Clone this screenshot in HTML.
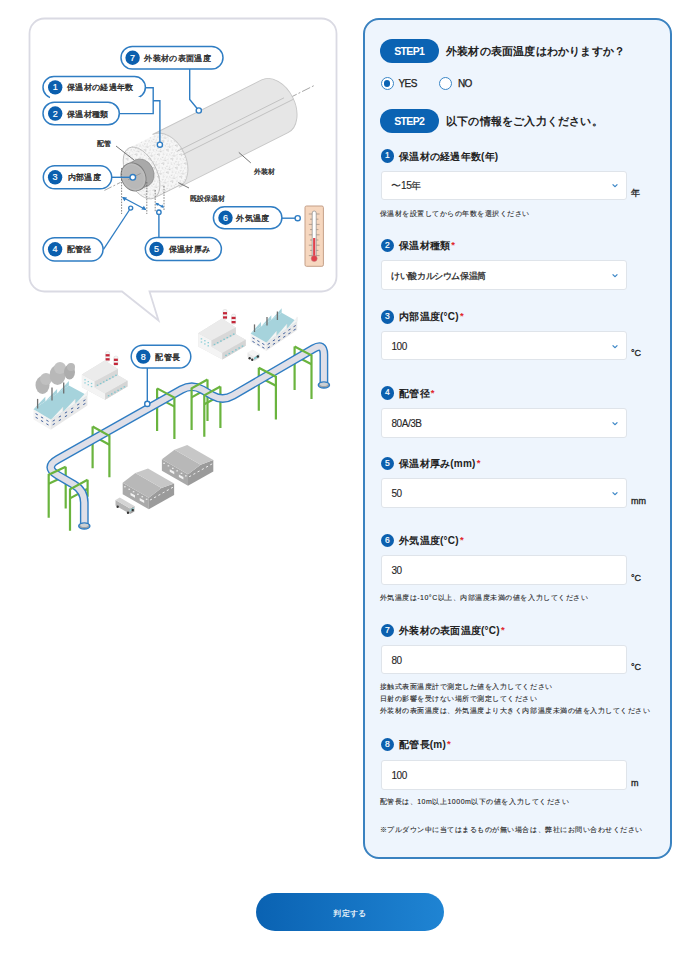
<!DOCTYPE html>
<html lang="ja"><head><meta charset="utf-8">
<style>
*{box-sizing:border-box;margin:0;padding:0}
html,body{width:695px;height:956px;overflow:hidden;background:#fff}
body{font-family:"Liberation Sans",sans-serif;color:#2b2b2b;position:relative}
.a{position:absolute;white-space:nowrap}
#panel{left:363px;top:17.5px;width:309px;height:841.5px;border:2px solid #3a82c0;border-radius:16px;background:#eef5fd}
.pill{background:#0b63b3;color:#fff;border-radius:12px;width:59px;height:24px;font-weight:bold;font-size:10.5px;letter-spacing:-0.65px;text-indent:-0.65px;line-height:24px;text-align:center;left:380px}
.ttl{left:446px;font-size:11px;letter-spacing:0.2px;font-weight:bold;line-height:16px;color:#222}
.radio{width:13px;height:13px;border:1.3px solid #3a86c6;border-radius:50%;background:#fff}
.radio.on::after{content:"";position:absolute;left:2.2px;top:2.2px;width:6.5px;height:6.5px;border-radius:50%;background:#0b63b3}
.rl{font-size:10px;letter-spacing:-0.6px;line-height:14px;color:#222;-webkit-text-stroke:0.25px #222}
.num{left:380.5px;width:13.5px;height:13.5px;border-radius:50%;background:#0b5fae;color:#fff;font-size:8.5px;line-height:13.5px;text-align:center;-webkit-text-stroke:0.2px #fff}
.lbl{left:399px;margin-top:0.5px;font-size:10px;letter-spacing:0.25px;font-weight:bold;line-height:14px;color:#222}
.req{color:#e0262b;font-size:9.5px;vertical-align:top;position:relative;top:-1px;margin-left:1px}
.fld{left:381px;width:245.5px;height:29.5px;background:#fff;border:1px solid #dfe4ea;border-radius:3px}
.ft{left:391.3px;font-size:9px;letter-spacing:-0.4px;line-height:12px;transform:translateY(1.2px);color:#222;-webkit-text-stroke:0.3px #333}
.ftn{font-size:10px;letter-spacing:-0.45px;margin-top:0.4px;margin-left:0.2px;-webkit-text-stroke:0.1px #333}
.chev{left:611.5px;width:6px;height:4px;transform:translateY(0.7px)}
.unit{left:631px;font-size:9px;line-height:12px;color:#222;-webkit-text-stroke:0.3px #222}
.help{left:379.6px;font-size:7px;letter-spacing:0.52px;line-height:12px;color:#111;-webkit-text-stroke:0.1px #444}
#btn{left:256px;top:893px;width:188px;height:38px;border-radius:19px;background:linear-gradient(90deg,#0a62b2,#1f84d3);color:#fff;font-size:8px;letter-spacing:0.4px;-webkit-text-stroke:0.15px #fff;line-height:38px;padding-top:1.5px;text-align:center}
</style></head><body>
<svg class="a" style="left:0;top:0" width="362" height="560" viewBox="0 0 362 560" font-family="Liberation Sans, sans-serif">
<defs><pattern id="dots" width="10" height="10" patternUnits="userSpaceOnUse"><rect width="10" height="10" fill="#f7f7f7"/><circle cx="2.38" cy="5.44" r="0.34" fill="#c4c4c4"/><circle cx="6.26" cy="0.66" r="0.25" fill="#c4c4c4"/><circle cx="2.59" cy="2.34" r="0.50" fill="#c4c4c4"/><circle cx="5.41" cy="5.50" r="0.35" fill="#aaaaaa"/><circle cx="2.32" cy="1.52" r="0.48" fill="#c4c4c4"/><circle cx="7.41" cy="6.71" r="0.27" fill="#999999"/><circle cx="3.01" cy="0.31" r="0.47" fill="#c4c4c4"/><circle cx="5.95" cy="9.20" r="0.35" fill="#c4c4c4"/><circle cx="3.95" cy="8.01" r="0.36" fill="#aaaaaa"/><circle cx="8.79" cy="0.97" r="0.28" fill="#aaaaaa"/><circle cx="2.58" cy="6.72" r="0.44" fill="#bbbbbb"/><circle cx="4.21" cy="8.33" r="0.39" fill="#c4c4c4"/><circle cx="5.84" cy="9.04" r="0.42" fill="#999999"/><circle cx="8.56" cy="9.91" r="0.42" fill="#aaaaaa"/><circle cx="6.99" cy="3.26" r="0.39" fill="#999999"/><circle cx="7.14" cy="2.11" r="0.46" fill="#bbbbbb"/><circle cx="2.85" cy="0.63" r="0.46" fill="#c4c4c4"/><circle cx="0.89" cy="8.01" r="0.35" fill="#aaaaaa"/><circle cx="0.20" cy="4.27" r="0.35" fill="#999999"/><circle cx="0.44" cy="6.15" r="0.26" fill="#bbbbbb"/><circle cx="5.51" cy="9.22" r="0.32" fill="#aaaaaa"/><circle cx="9.99" cy="3.10" r="0.27" fill="#999999"/><circle cx="9.49" cy="9.71" r="0.32" fill="#bbbbbb"/><circle cx="1.56" cy="0.42" r="0.47" fill="#bbbbbb"/><circle cx="3.60" cy="1.38" r="0.47" fill="#c4c4c4"/><circle cx="4.60" cy="5.20" r="0.41" fill="#999999"/><circle cx="6.20" cy="9.41" r="0.38" fill="#c4c4c4"/><circle cx="6.34" cy="7.16" r="0.48" fill="#c4c4c4"/><circle cx="9.78" cy="5.21" r="0.39" fill="#999999"/><circle cx="7.88" cy="9.87" r="0.33" fill="#c4c4c4"/></pattern></defs>
<path d="M44.5 18.5 H321.5 A15 15 0 0 1 336.5 33.5 V276.5 A15 15 0 0 1 321.5 291.5 H149.5 L158.5 320.5 L122 291.5 H44.5 A15 15 0 0 1 29.5 276.5 V33.5 A15 15 0 0 1 44.5 18.5 Z" fill="#fff" stroke="#dadae3" stroke-width="1.8"/>
<g transform="translate(133.5 177) rotate(-26.57)">
<line x1="174" y1="-1" x2="204" y2="-1" stroke="#9a9a9a" stroke-width="0.8" stroke-dasharray="9 2 2 2"/>
<path d="M9 -28 L58 -28 L58 28 L9 28 Z" fill="url(#dots)" stroke="none"/>
<line x1="9" y1="28" x2="58" y2="28" stroke="#b8b8b8" stroke-width="0.8"/>
<path d="M36 -29.5 L158 -29.5 A20 29.5 0 0 1 158 29.5 L36 29.5 A20 29.5 0 0 0 36 -29.5 Z" fill="#e6e6e6" stroke="#c6c6c6" stroke-width="0.9"/>
<line x1="50" y1="-3.5" x2="170" y2="-3.5" stroke="#bdbdbd" stroke-width="0.8"/>
<line x1="54" y1="2" x2="178" y2="2" stroke="#bdbdbd" stroke-width="0.8"/>
<ellipse cx="9" cy="0" rx="15" ry="28" fill="url(#dots)" stroke="#b8b8b8" stroke-width="0.8"/>
<path d="M0 -14.5 L9 -14.5 L9 14.5 L0 14.5 Z" fill="#a9a9a9"/>
<ellipse cx="9" cy="0" rx="12" ry="14.5" fill="#a9a9a9" stroke="#8f8f8f" stroke-width="0.7" clip-path="none"/>
<ellipse cx="0" cy="0" rx="12" ry="14.5" fill="#bdbdbd" stroke="#7c7c7c" stroke-width="0.9"/>
<ellipse cx="0" cy="0" rx="9.8" ry="12.3" fill="#b8b8b8" stroke="none"/>
<line x1="-32" y1="-1" x2="-14" y2="-1" stroke="#9a9a9a" stroke-width="0.8" stroke-dasharray="8 2 2 2"/>
<line x1="-6" y1="0" x2="8" y2="0" stroke="#8a8a8a" stroke-width="0.6"/>
</g>
<path d="M116 146 L134 160" stroke="#555" stroke-width="0.8"/>
<path d="M250.8 162.9 L238.8 152.4" stroke="#555" stroke-width="0.8"/>
<path d="M189 188 L178.3 182.6" stroke="#555" stroke-width="0.8"/>
<text x="97.2" y="145.8" font-size="7" fill="#2a2a2a" stroke="#2a2a2a" stroke-width="0.3">配管</text>
<text x="253.9" y="173.6" font-size="7" fill="#2a2a2a" stroke="#2a2a2a" stroke-width="0.3">外装材</text>
<text x="190.4" y="200.5" font-size="7" fill="#2a2a2a" stroke="#2a2a2a" stroke-width="0.3">既設保温材</text>
<line x1="121.6" y1="168" x2="121.6" y2="214" stroke="#555" stroke-width="0.7" stroke-dasharray="1.6 1.2"/>
<line x1="146.8" y1="182" x2="146.8" y2="214" stroke="#555" stroke-width="0.7" stroke-dasharray="1.6 1.2"/>
<line x1="155.2" y1="190" x2="155.2" y2="212" stroke="#555" stroke-width="0.7" stroke-dasharray="1.6 1.2"/>
<line x1="164" y1="186" x2="164" y2="210" stroke="#555" stroke-width="0.7" stroke-dasharray="1.6 1.2"/>
<path d="M123 197.5 L145.5 209.5" stroke="#2f7dc3" stroke-width="1.3"/>
<path d="M122 197 l5 0.6 l-2.6 3.6 Z M146.3 210 l-5 -0.6 l2.6 -3.6 Z" fill="#2f7dc3"/>
<path d="M156 203.3 L163.4 207.2" stroke="#2f7dc3" stroke-width="1.2"/>
<path d="M155.4 203 l3.6 0.3 l-1.8 2.6 Z M164 207.5 l-3.6 -0.3 l1.8 -2.6 Z" fill="#2f7dc3"/>
<path d="M189.7 69 V99.4 L198.8 110.5" fill="none" stroke="#2f7dc3" stroke-width="1.4"/>
<circle cx="198.8" cy="110.5" r="2.6" fill="#fff" stroke="#2f7dc3" stroke-width="1.4"/>
<path d="M145.4 87.7 H153.2 V113.6 H119.3 M153.2 100.7 H159.9 V144.7" fill="none" stroke="#2f7dc3" stroke-width="1.4"/>
<circle cx="159.9" cy="144.7" r="2.6" fill="#fff" stroke="#2f7dc3" stroke-width="1.4"/>
<path d="M111.7 177.3 H130" fill="none" stroke="#2f7dc3" stroke-width="1.4"/>
<circle cx="132.8" cy="177.3" r="2.8" fill="#fff" stroke="#2f7dc3" stroke-width="1.4"/>
<path d="M103.5 249.4 L129.4 210" fill="none" stroke="#2f7dc3" stroke-width="1.3"/>
<circle cx="130.7" cy="208.1" r="2.0" fill="#fff" stroke="#2f7dc3" stroke-width="1.4"/>
<path d="M158.9 237.7 V214.4" fill="none" stroke="#2f7dc3" stroke-width="1.4"/>
<circle cx="158.9" cy="212.2" r="2.2" fill="#fff" stroke="#2f7dc3" stroke-width="1.4"/>
<path d="M281.9 218.2 H295" fill="none" stroke="#2f7dc3" stroke-width="1.4"/>
<circle cx="297.7" cy="218.2" r="2.6" fill="#fff" stroke="#2f7dc3" stroke-width="1.4"/>
<rect x="121" y="46.5" width="102" height="22.5" rx="11.25" fill="#fff" stroke="#2f7dc3" stroke-width="1.5"/>
<circle cx="132.6" cy="57.75" r="7.2" fill="#0b5fae"/>
<text x="132.6" y="60.85" font-size="9" fill="#fff" stroke="#fff" stroke-width="0.2" text-anchor="middle">7</text>
<text x="144.2" y="60.85" font-size="8" letter-spacing="0.35" fill="#2a2a2a" stroke="#2a2a2a" stroke-width="0.35">外装材の表面温度</text>
<rect x="43" y="76.5" width="102.4" height="21.700000000000003" rx="10.850000000000001" fill="#fff" stroke="#2f7dc3" stroke-width="1.5"/>
<circle cx="55.2" cy="87.35" r="7.2" fill="#0b5fae"/>
<text x="55.2" y="90.44999999999999" font-size="9" fill="#fff" stroke="#fff" stroke-width="0.2" text-anchor="middle">1</text>
<text x="66.9" y="90.44999999999999" font-size="8" letter-spacing="0.35" fill="#2a2a2a" stroke="#2a2a2a" stroke-width="0.35">保温材の経過年数</text>
<rect x="50" y="97" width="90" height="2.6" fill="#fff"/>
<rect x="43" y="102.3" width="76.3" height="22.5" rx="11.25" fill="#fff" stroke="#2f7dc3" stroke-width="1.5"/>
<circle cx="55.2" cy="113.55" r="7.2" fill="#0b5fae"/>
<text x="55.2" y="116.64999999999999" font-size="9" fill="#fff" stroke="#fff" stroke-width="0.2" text-anchor="middle">2</text>
<text x="66.9" y="116.64999999999999" font-size="8" letter-spacing="0.35" fill="#2a2a2a" stroke="#2a2a2a" stroke-width="0.35">保温材種類</text>
<rect x="43.3" y="165.8" width="68.4" height="23.0" rx="11.5" fill="#fff" stroke="#2f7dc3" stroke-width="1.5"/>
<circle cx="55.1" cy="177.3" r="7.2" fill="#0b5fae"/>
<text x="55.1" y="180.4" font-size="9" fill="#fff" stroke="#fff" stroke-width="0.2" text-anchor="middle">3</text>
<text x="67.8" y="180.4" font-size="8" letter-spacing="0.35" fill="#2a2a2a" stroke="#2a2a2a" stroke-width="0.35">内部温度</text>
<rect x="43.1" y="237.7" width="59.99999999999999" height="23.19999999999999" rx="11.599999999999994" fill="#fff" stroke="#2f7dc3" stroke-width="1.5"/>
<circle cx="55.1" cy="249.29999999999998" r="7.2" fill="#0b5fae"/>
<text x="55.1" y="252.39999999999998" font-size="9" fill="#fff" stroke="#fff" stroke-width="0.2" text-anchor="middle">4</text>
<text x="66.8" y="252.39999999999998" font-size="8" letter-spacing="0.35" fill="#2a2a2a" stroke="#2a2a2a" stroke-width="0.35">配管径</text>
<rect x="145.3" y="237.6" width="76.1" height="22.900000000000006" rx="11.450000000000003" fill="#fff" stroke="#2f7dc3" stroke-width="1.5"/>
<circle cx="156.5" cy="249.05" r="7.2" fill="#0b5fae"/>
<text x="156.5" y="252.15" font-size="9" fill="#fff" stroke="#fff" stroke-width="0.2" text-anchor="middle">5</text>
<text x="168.8" y="252.15" font-size="8" letter-spacing="0.35" fill="#2a2a2a" stroke="#2a2a2a" stroke-width="0.35">保温材厚み</text>
<rect x="213.4" y="206.7" width="68.49999999999997" height="22.100000000000023" rx="11.050000000000011" fill="#fff" stroke="#2f7dc3" stroke-width="1.5"/>
<circle cx="225.5" cy="217.75" r="7.2" fill="#0b5fae"/>
<text x="225.5" y="220.85" font-size="9" fill="#fff" stroke="#fff" stroke-width="0.2" text-anchor="middle">6</text>
<text x="236.4" y="220.85" font-size="8" letter-spacing="0.35" fill="#2a2a2a" stroke="#2a2a2a" stroke-width="0.35">外気温度</text>
<rect x="305" y="206" width="18.4" height="60.3" rx="1.5" fill="#f6d7bf" stroke="#c49f88" stroke-width="1"/>
<line x1="308.8" y1="214.0" x2="319.59999999999997" y2="214.0" stroke="#8a7a70" stroke-width="0.6"/>
<line x1="310.0" y1="219.2" x2="318.4" y2="219.2" stroke="#8a7a70" stroke-width="0.6"/>
<line x1="308.8" y1="224.4" x2="319.59999999999997" y2="224.4" stroke="#8a7a70" stroke-width="0.6"/>
<line x1="310.0" y1="229.6" x2="318.4" y2="229.6" stroke="#8a7a70" stroke-width="0.6"/>
<line x1="308.8" y1="234.8" x2="319.59999999999997" y2="234.8" stroke="#8a7a70" stroke-width="0.6"/>
<line x1="310.0" y1="240.0" x2="318.4" y2="240.0" stroke="#8a7a70" stroke-width="0.6"/>
<line x1="308.8" y1="245.2" x2="319.59999999999997" y2="245.2" stroke="#8a7a70" stroke-width="0.6"/>
<line x1="310.0" y1="250.4" x2="318.4" y2="250.4" stroke="#8a7a70" stroke-width="0.6"/>
<line x1="308.8" y1="255.6" x2="319.59999999999997" y2="255.6" stroke="#8a7a70" stroke-width="0.6"/>
<rect x="312.2" y="211" width="4" height="46" rx="2" fill="#fff" stroke="#8a8a8a" stroke-width="0.7"/>
<rect x="313.1" y="238" width="2.2" height="20" fill="#e0414b"/>
<circle cx="314.2" cy="258.5" r="3" fill="#e0414b" stroke="#b88" stroke-width="0.5"/>
<polygon points="33.50,409.20 50.70,419.60 50.70,429.80 33.50,419.40" fill="#f3f3f3" />
<polygon points="50.70,419.60 87.40,395.40 87.40,405.60 50.70,429.80" fill="#e8e8e8" />
<polygon points="33.50,409.20 68.90,385.50 87.40,395.40 50.70,419.60" fill="#a6d3dc" />
<polygon points="33.50,409.20 45.30,396.80 45.30,401.30" fill="#a6d3dc" />
<polygon points="45.30,401.30 57.10,388.90 57.10,393.40" fill="#a6d3dc" />
<polygon points="57.10,393.40 68.90,381.00 68.90,385.50" fill="#a6d3dc" />
<polygon points="51.92,418.79 62.93,407.03 62.93,411.53" fill="#f4f4f4" />
<line x1="62.93" y1="407.03" x2="62.93" y2="411.53" stroke="#dcdcdc" stroke-width="0.5"/>
<polygon points="64.16,410.73 75.17,398.97 75.17,403.47" fill="#f4f4f4" />
<line x1="75.17" y1="398.97" x2="75.17" y2="403.47" stroke="#dcdcdc" stroke-width="0.5"/>
<polygon points="76.39,402.66 87.40,390.90 87.40,395.40" fill="#f4f4f4" />
<line x1="87.40" y1="390.90" x2="87.40" y2="395.40" stroke="#dcdcdc" stroke-width="0.5"/>
<path d="M35.59 413.62 l2.2 1.25" stroke="#41609c" stroke-width="1"/>
<path d="M40.96 416.88 l2.2 1.25" stroke="#41609c" stroke-width="1"/>
<path d="M46.34 420.12 l2.2 1.25" stroke="#41609c" stroke-width="1"/>
<path d="M52.66 421.18 l2.2 -1.25" stroke="#41609c" stroke-width="1"/>
<path d="M58.77 417.15 l2.2 -1.25" stroke="#41609c" stroke-width="1"/>
<path d="M64.89 413.12 l2.2 -1.25" stroke="#41609c" stroke-width="1"/>
<path d="M71.01 409.08 l2.2 -1.25" stroke="#41609c" stroke-width="1"/>
<path d="M77.13 405.05 l2.2 -1.25" stroke="#41609c" stroke-width="1"/>
<path d="M83.24 401.02 l2.2 -1.25" stroke="#41609c" stroke-width="1"/>
<path d="M35.59 417.23 l2.2 1.25" stroke="#41609c" stroke-width="1"/>
<path d="M40.96 420.48 l2.2 1.25" stroke="#41609c" stroke-width="1"/>
<path d="M46.34 423.73 l2.2 1.25" stroke="#41609c" stroke-width="1"/>
<path d="M52.66 424.78 l2.2 -1.25" stroke="#41609c" stroke-width="1"/>
<path d="M58.77 420.75 l2.2 -1.25" stroke="#41609c" stroke-width="1"/>
<path d="M64.89 416.72 l2.2 -1.25" stroke="#41609c" stroke-width="1"/>
<path d="M71.01 412.68 l2.2 -1.25" stroke="#41609c" stroke-width="1"/>
<path d="M77.13 408.65 l2.2 -1.25" stroke="#41609c" stroke-width="1"/>
<path d="M83.24 404.62 l2.2 -1.25" stroke="#41609c" stroke-width="1"/>
<line x1="37.6" y1="398.9" x2="37.6" y2="408.5" stroke="#6e6e6e" stroke-width="1.3"/>
<line x1="52" y1="387.6" x2="52" y2="400.5" stroke="#6e6e6e" stroke-width="1.3"/>
<line x1="63.7" y1="382.5" x2="63.7" y2="393.5" stroke="#6e6e6e" stroke-width="1.3"/>
<ellipse cx="42.5" cy="385" rx="7" ry="9" fill="#b5b5b5"/>
<ellipse cx="46" cy="379" rx="6" ry="6" fill="#c0c0c0"/>
<ellipse cx="57.5" cy="375" rx="8" ry="10" fill="#b8b8b8"/>
<ellipse cx="60" cy="368" rx="6" ry="6" fill="#c3c3c3"/>
<ellipse cx="69.5" cy="372" rx="5.5" ry="7.5" fill="#adadad"/>
<ellipse cx="71" cy="367" rx="4" ry="4" fill="#b9b9b9"/>
<polygon points="81.90,374.40 104.75,360.38 118.00,369.02 118.00,375.36 127.50,380.74 127.50,386.50 105.13,399.74 81.90,387.26" fill="#dedede" />
<polygon points="81.90,374.40 94.76,381.50 94.76,387.46 105.13,393.41 105.13,399.74 81.90,387.26" fill="#f4f4f4" />
<polygon points="81.90,374.40 104.75,360.38 118.00,369.02 94.76,381.50" fill="#ebebeb" />
<polygon points="94.76,381.50 118.00,369.02 118.00,375.36 94.76,387.46" fill="#d8d8d8" />
<polygon points="94.76,387.46 118.00,375.36 127.50,380.74 105.13,393.41" fill="#e9e9e9" />
<polygon points="105.13,393.41 127.50,380.74 127.50,386.50 105.13,399.74" fill="#d5d5d5" />
<rect x="96.78" y="384.58" width="1.54" height="1.34" fill="#7fc6cf"/>
<rect x="99.85" y="382.92" width="1.54" height="1.34" fill="#7fc6cf"/>
<rect x="102.92" y="381.27" width="1.54" height="1.34" fill="#7fc6cf"/>
<rect x="106.00" y="379.62" width="1.54" height="1.34" fill="#7fc6cf"/>
<rect x="109.07" y="377.97" width="1.54" height="1.34" fill="#7fc6cf"/>
<rect x="112.14" y="376.32" width="1.54" height="1.34" fill="#7fc6cf"/>
<rect x="115.21" y="374.67" width="1.54" height="1.34" fill="#7fc6cf"/>
<rect x="107.82" y="395.04" width="1.54" height="1.34" fill="#7fc6cf"/>
<rect x="110.99" y="393.26" width="1.54" height="1.34" fill="#7fc6cf"/>
<rect x="114.16" y="391.49" width="1.54" height="1.34" fill="#7fc6cf"/>
<rect x="117.32" y="389.71" width="1.54" height="1.34" fill="#7fc6cf"/>
<rect x="120.49" y="387.94" width="1.54" height="1.34" fill="#7fc6cf"/>
<rect x="123.66" y="386.16" width="1.54" height="1.34" fill="#7fc6cf"/>
<rect x="84.30" y="379.20" width="1.44" height="1.25" fill="#8fd0d8"/>
<rect x="84.30" y="382.27" width="1.44" height="1.25" fill="#8fd0d8"/>
<rect x="87.56" y="381.02" width="1.44" height="1.25" fill="#8fd0d8"/>
<rect x="87.56" y="384.10" width="1.44" height="1.25" fill="#8fd0d8"/>
<rect x="90.83" y="382.85" width="1.44" height="1.25" fill="#8fd0d8"/>
<rect x="90.83" y="385.92" width="1.44" height="1.25" fill="#8fd0d8"/>
<rect x="105.63" y="351.65" width="4" height="9.50" rx="1.5" fill="#f6f6f6" stroke="#d0d0d0" stroke-width="0.5"/>
<rect x="105.63" y="354.14" width="4" height="2.3" fill="#c4283a"/>
<rect x="105.63" y="358.18" width="4" height="2.3" fill="#c4283a"/>
<rect x="113.88" y="356.16" width="4" height="9.60" rx="1.5" fill="#f6f6f6" stroke="#d0d0d0" stroke-width="0.5"/>
<rect x="113.88" y="358.66" width="4" height="2.3" fill="#c4283a"/>
<rect x="113.88" y="362.69" width="4" height="2.3" fill="#c4283a"/>
<polygon points="198.20,333.20 222.00,318.60 235.80,327.60 235.80,334.20 245.70,339.80 245.70,345.80 222.40,359.60 198.20,346.60" fill="#dedede" />
<polygon points="198.20,333.20 211.60,340.60 211.60,346.80 222.40,353.00 222.40,359.60 198.20,346.60" fill="#f4f4f4" />
<polygon points="198.20,333.20 222.00,318.60 235.80,327.60 211.60,340.60" fill="#ebebeb" />
<polygon points="211.60,340.60 235.80,327.60 235.80,334.20 211.60,346.80" fill="#d8d8d8" />
<polygon points="211.60,346.80 235.80,334.20 245.70,339.80 222.40,353.00" fill="#e9e9e9" />
<polygon points="222.40,353.00 245.70,339.80 245.70,345.80 222.40,359.60" fill="#d5d5d5" />
<rect x="213.70" y="343.80" width="1.60" height="1.40" fill="#7fc6cf"/>
<rect x="216.90" y="342.08" width="1.60" height="1.40" fill="#7fc6cf"/>
<rect x="220.10" y="340.36" width="1.60" height="1.40" fill="#7fc6cf"/>
<rect x="223.30" y="338.64" width="1.60" height="1.40" fill="#7fc6cf"/>
<rect x="226.50" y="336.92" width="1.60" height="1.40" fill="#7fc6cf"/>
<rect x="229.70" y="335.20" width="1.60" height="1.40" fill="#7fc6cf"/>
<rect x="232.90" y="333.48" width="1.60" height="1.40" fill="#7fc6cf"/>
<rect x="225.20" y="354.70" width="1.60" height="1.40" fill="#7fc6cf"/>
<rect x="228.50" y="352.85" width="1.60" height="1.40" fill="#7fc6cf"/>
<rect x="231.80" y="351.00" width="1.60" height="1.40" fill="#7fc6cf"/>
<rect x="235.10" y="349.15" width="1.60" height="1.40" fill="#7fc6cf"/>
<rect x="238.40" y="347.30" width="1.60" height="1.40" fill="#7fc6cf"/>
<rect x="241.70" y="345.45" width="1.60" height="1.40" fill="#7fc6cf"/>
<rect x="200.70" y="338.20" width="1.50" height="1.30" fill="#8fd0d8"/>
<rect x="200.70" y="341.40" width="1.50" height="1.30" fill="#8fd0d8"/>
<rect x="204.10" y="340.10" width="1.50" height="1.30" fill="#8fd0d8"/>
<rect x="204.10" y="343.30" width="1.50" height="1.30" fill="#8fd0d8"/>
<rect x="207.50" y="342.00" width="1.50" height="1.30" fill="#8fd0d8"/>
<rect x="207.50" y="345.20" width="1.50" height="1.30" fill="#8fd0d8"/>
<rect x="223.00" y="309.50" width="4" height="9.90" rx="1.5" fill="#f6f6f6" stroke="#d0d0d0" stroke-width="0.5"/>
<rect x="223.00" y="312.10" width="4" height="2.3" fill="#c4283a"/>
<rect x="223.00" y="316.30" width="4" height="2.3" fill="#c4283a"/>
<rect x="231.60" y="314.20" width="4" height="10.00" rx="1.5" fill="#f6f6f6" stroke="#d0d0d0" stroke-width="0.5"/>
<rect x="231.60" y="316.80" width="4" height="2.3" fill="#c4283a"/>
<rect x="231.60" y="321.00" width="4" height="2.3" fill="#c4283a"/>
<polygon points="250.60,333.50 266.20,342.60 266.20,351.10 250.60,342.00" fill="#f3f3f3" />
<polygon points="266.20,342.60 297.20,321.40 297.20,329.90 266.20,351.10" fill="#e8e8e8" />
<polygon points="250.60,333.50 281.70,312.80 297.20,321.40 266.20,342.60" fill="#a6d3dc" />
<polygon points="250.60,333.50 260.97,322.10 260.97,326.60" fill="#a6d3dc" />
<polygon points="260.97,326.60 271.33,315.20 271.33,319.70" fill="#a6d3dc" />
<polygon points="271.33,319.70 281.70,308.30 281.70,312.80" fill="#a6d3dc" />
<polygon points="267.23,341.89 276.53,331.03 276.53,335.53" fill="#f4f4f4" />
<line x1="276.53" y1="331.03" x2="276.53" y2="335.53" stroke="#dcdcdc" stroke-width="0.5"/>
<polygon points="277.57,334.83 286.87,323.97 286.87,328.47" fill="#f4f4f4" />
<line x1="286.87" y1="323.97" x2="286.87" y2="328.47" stroke="#dcdcdc" stroke-width="0.5"/>
<polygon points="287.90,327.76 297.20,316.90 297.20,321.40" fill="#f4f4f4" />
<line x1="297.20" y1="316.90" x2="297.20" y2="321.40" stroke="#dcdcdc" stroke-width="0.5"/>
<path d="M252.44 337.72 l2.2 1.25" stroke="#41609c" stroke-width="1"/>
<path d="M257.31 340.57 l2.2 1.25" stroke="#41609c" stroke-width="1"/>
<path d="M262.19 343.41 l2.2 1.25" stroke="#41609c" stroke-width="1"/>
<path d="M267.68 344.43 l2.2 -1.25" stroke="#41609c" stroke-width="1"/>
<path d="M272.85 340.90 l2.2 -1.25" stroke="#41609c" stroke-width="1"/>
<path d="M278.02 337.37 l2.2 -1.25" stroke="#41609c" stroke-width="1"/>
<path d="M283.18 333.83 l2.2 -1.25" stroke="#41609c" stroke-width="1"/>
<path d="M288.35 330.30 l2.2 -1.25" stroke="#41609c" stroke-width="1"/>
<path d="M293.52 326.77 l2.2 -1.25" stroke="#41609c" stroke-width="1"/>
<path d="M252.44 341.32 l2.2 1.25" stroke="#41609c" stroke-width="1"/>
<path d="M257.31 344.17 l2.2 1.25" stroke="#41609c" stroke-width="1"/>
<path d="M262.19 347.01 l2.2 1.25" stroke="#41609c" stroke-width="1"/>
<path d="M267.68 348.03 l2.2 -1.25" stroke="#41609c" stroke-width="1"/>
<path d="M272.85 344.50 l2.2 -1.25" stroke="#41609c" stroke-width="1"/>
<path d="M278.02 340.97 l2.2 -1.25" stroke="#41609c" stroke-width="1"/>
<path d="M283.18 337.43 l2.2 -1.25" stroke="#41609c" stroke-width="1"/>
<path d="M288.35 333.90 l2.2 -1.25" stroke="#41609c" stroke-width="1"/>
<path d="M293.52 330.37 l2.2 -1.25" stroke="#41609c" stroke-width="1"/>
<line x1="254.5" y1="324.4" x2="254.5" y2="332" stroke="#6e6e6e" stroke-width="1.3"/>
<line x1="267" y1="317.1" x2="267" y2="325.5" stroke="#6e6e6e" stroke-width="1.3"/>
<line x1="277.4" y1="311.5" x2="277.4" y2="320" stroke="#6e6e6e" stroke-width="1.3"/>
<polygon points="247.50,352.50 254.38,356.50 254.38,361.00 247.50,357.00" fill="#e9e9e9" />
<polygon points="254.38,356.50 259.54,353.50 259.54,358.00 254.38,361.00" fill="#dcdcdc" />
<polygon points="247.50,352.50 254.38,356.50 259.54,353.50 252.66,349.50" fill="#f4f4f4" />
<polygon points="253.95,357.75 259.11,354.75 259.11,356.75 253.95,359.75" fill="#7fc6cf" />
<ellipse cx="249.65" cy="358.25" rx="1.2" ry="1.3" fill="#333"/>
<ellipse cx="252.23" cy="359.75" rx="1.2" ry="1.3" fill="#333"/>
<ellipse cx="257.82" cy="356.50" rx="1.2" ry="1.3" fill="#333"/>
<polygon points="122.70,482.70 148.80,497.70 148.80,509.20 122.70,494.20" fill="#a9a9a9" />
<polygon points="148.80,497.70 161.45,488.10 174.10,483.50 174.10,495.00 148.80,509.20" fill="#9b9b9b" />
<polygon points="122.70,482.70 135.35,473.10 161.45,488.10 148.80,497.70" fill="#b8b8b8" />
<polygon points="135.35,473.10 148.00,468.50 174.10,483.50 161.45,488.10" fill="#c7c7c7" />
<rect x="124.08" y="486.15" width="1.6" height="1.2" fill="#eee"/>
<rect x="128.42" y="488.65" width="1.6" height="1.2" fill="#eee"/>
<rect x="132.78" y="491.15" width="1.6" height="1.2" fill="#eee"/>
<rect x="137.12" y="493.65" width="1.6" height="1.2" fill="#eee"/>
<rect x="141.47" y="496.15" width="1.6" height="1.2" fill="#eee"/>
<rect x="145.82" y="498.65" width="1.6" height="1.2" fill="#eee"/>
<path d="M149.91 500.12 l2 -1" stroke="#eee" stroke-width="1"/>
<path d="M154.12 497.75 l2 -1" stroke="#eee" stroke-width="1"/>
<path d="M158.34 495.38 l2 -1" stroke="#eee" stroke-width="1"/>
<path d="M162.56 493.02 l2 -1" stroke="#eee" stroke-width="1"/>
<path d="M166.78 490.65 l2 -1" stroke="#eee" stroke-width="1"/>
<path d="M170.99 488.28 l2 -1" stroke="#eee" stroke-width="1"/>
<polygon points="130.53,492.70 135.03,495.20 135.03,497.70 130.53,495.20" fill="#f1f1f1" />
<polygon points="139.67,497.95 144.17,500.45 144.17,502.95 139.67,500.45" fill="#f1f1f1" />
<polygon points="161.90,459.30 188.00,474.30 188.00,485.80 161.90,470.80" fill="#a9a9a9" />
<polygon points="188.00,474.30 200.65,464.70 213.30,460.10 213.30,471.60 188.00,485.80" fill="#9b9b9b" />
<polygon points="161.90,459.30 174.55,449.70 200.65,464.70 188.00,474.30" fill="#b8b8b8" />
<polygon points="174.55,449.70 187.20,445.10 213.30,460.10 200.65,464.70" fill="#c7c7c7" />
<rect x="163.28" y="462.75" width="1.6" height="1.2" fill="#eee"/>
<rect x="167.62" y="465.25" width="1.6" height="1.2" fill="#eee"/>
<rect x="171.98" y="467.75" width="1.6" height="1.2" fill="#eee"/>
<rect x="176.33" y="470.25" width="1.6" height="1.2" fill="#eee"/>
<rect x="180.68" y="472.75" width="1.6" height="1.2" fill="#eee"/>
<rect x="185.03" y="475.25" width="1.6" height="1.2" fill="#eee"/>
<path d="M189.11 476.72 l2 -1" stroke="#eee" stroke-width="1"/>
<path d="M193.33 474.35 l2 -1" stroke="#eee" stroke-width="1"/>
<path d="M197.54 471.98 l2 -1" stroke="#eee" stroke-width="1"/>
<path d="M201.76 469.62 l2 -1" stroke="#eee" stroke-width="1"/>
<path d="M205.98 467.25 l2 -1" stroke="#eee" stroke-width="1"/>
<path d="M210.19 464.88 l2 -1" stroke="#eee" stroke-width="1"/>
<polygon points="169.73,469.30 174.23,471.80 174.23,474.30 169.73,471.80" fill="#f1f1f1" />
<polygon points="178.87,474.55 183.37,477.05 183.37,479.55 178.87,477.05" fill="#f1f1f1" />
<polygon points="115.50,500.00 130.12,508.50 130.12,514.00 115.50,505.50" fill="#b5b5b5" />
<polygon points="130.12,508.50 134.42,506.00 134.42,511.50 130.12,514.00" fill="#a0a0a0" />
<polygon points="115.50,500.00 130.12,508.50 134.42,506.00 119.80,497.50" fill="#d4d4d4" />
<polygon points="129.69,509.75 133.99,507.25 133.99,509.25 129.69,511.75" fill="#9fd4d8" />
<ellipse cx="117.65" cy="506.75" rx="1.2" ry="1.3" fill="#333"/>
<ellipse cx="127.97" cy="512.75" rx="1.2" ry="1.3" fill="#333"/>
<ellipse cx="132.70" cy="510.00" rx="1.2" ry="1.3" fill="#333"/>
<path d="M92.6 426.5 V468.2 M92.6 435.5 L109.4 444.8" stroke="#6ab43e" stroke-width="2.2" fill="none"/>
<path d="M157.1 388.4 V431.0 M157.1 397.4 L174.4 406.6" stroke="#6ab43e" stroke-width="2.2" fill="none"/>
<path d="M207.5 379.5 V421.0 M191.6 397.4 L207.5 388.5" stroke="#6ab43e" stroke-width="2.2" fill="none"/>
<path d="M220.4 386.5 V428.0 M204.3 404.3 L220.4 395.5" stroke="#6ab43e" stroke-width="2.2" fill="none"/>
<path d="M258.8 367.7 V410.7 M258.8 376.7 L275.9 385.7" stroke="#6ab43e" stroke-width="2.2" fill="none"/>
<path d="M294.6 346.6 V390.1 M294.6 355.6 L311.5 364.3" stroke="#6ab43e" stroke-width="2.2" fill="none"/>
<path d="M65.7 466.8 V508.5 M48.7 483.7 L65.7 475.8" stroke="#6ab43e" stroke-width="2.2" fill="none"/>
<path d="M87.6 479.7 V496.7 M70 498.4 L87.6 488.7" stroke="#6ab43e" stroke-width="2.2" fill="none"/>
<path d="M84.30 526.00 L84.30 502.60 Q84.30 490.60 73.91 484.60 L57.65 475.20 Q43.80 467.20 57.74 459.34 L181.45 389.59 Q191.90 383.70 202.29 389.70 L212.31 395.50 Q222.70 401.50 233.07 395.46 L313.53 348.64 Q323.90 342.60 323.90 354.60 L323.90 385.00" fill="none" stroke="#2f7dc3" stroke-width="8.8"/>
<path d="M84.30 526.00 L84.30 502.60 Q84.30 490.60 73.91 484.60 L57.65 475.20 Q43.80 467.20 57.74 459.34 L181.45 389.59 Q191.90 383.70 202.29 389.70 L212.31 395.50 Q222.70 401.50 233.07 395.46 L313.53 348.64 Q323.90 342.60 323.90 354.60 L323.90 385.00" fill="none" stroke="#dfdfe8" stroke-width="6"/>
<ellipse cx="84.3" cy="526" rx="5.6" ry="3" fill="#9aa0a6" stroke="#2f7dc3" stroke-width="1.4"/>
<ellipse cx="84.3" cy="525.2" rx="4" ry="1.8" fill="#ccd0d4"/>
<ellipse cx="323.9" cy="385" rx="5.6" ry="3" fill="#9aa0a6" stroke="#2f7dc3" stroke-width="1.4"/>
<ellipse cx="323.9" cy="384.2" rx="4" ry="1.8" fill="#ccd0d4"/>
<path d="M92.6 426.5 L109.4 435.8 V477.3" stroke="#6ab43e" stroke-width="2.2" fill="none"/>
<path d="M157.1 388.4 L174.4 397.6 V439.0" stroke="#6ab43e" stroke-width="2.2" fill="none"/>
<path d="M207.5 379.5 L191.6 388.4 V429.9" stroke="#6ab43e" stroke-width="2.2" fill="none"/>
<path d="M220.4 386.5 L204.3 395.3 V436.8" stroke="#6ab43e" stroke-width="2.2" fill="none"/>
<path d="M258.8 367.7 L275.9 376.7 V419.4" stroke="#6ab43e" stroke-width="2.2" fill="none"/>
<path d="M294.6 346.6 L311.5 355.3 V398.90000000000003" stroke="#6ab43e" stroke-width="2.2" fill="none"/>
<path d="M65.7 466.8 L48.7 474.7 V517.8" stroke="#6ab43e" stroke-width="2.2" fill="none"/>
<path d="M87.6 479.7 L70 489.4 V530.8" stroke="#6ab43e" stroke-width="2.2" fill="none"/>
<path d="M147.3 368 V401.5" fill="none" stroke="#2f7dc3" stroke-width="1.4"/>
<circle cx="147.3" cy="403.9" r="2.6" fill="#fff" stroke="#2f7dc3" stroke-width="1.4"/>
<rect x="131.2" y="345.2" width="59.60000000000002" height="22.80000000000001" rx="11.400000000000006" fill="#fff" stroke="#2f7dc3" stroke-width="1.5"/>
<circle cx="143.3" cy="356.6" r="7.2" fill="#0b5fae"/>
<text x="143.3" y="359.70000000000005" font-size="9" fill="#fff" stroke="#fff" stroke-width="0.2" text-anchor="middle">8</text>
<text x="155.4" y="359.70000000000005" font-size="8" letter-spacing="0.35" fill="#2a2a2a" stroke="#2a2a2a" stroke-width="0.35">配管長</text>
</svg>
<!-- right panel -->
<div id="panel" class="a"></div>
<div class="a pill" style="top:38.5px">STEP1</div>
<div class="a ttl" style="top:43px">外装材の表面温度はわかりますか？</div>
<div class="a radio on" style="left:380.5px;top:77px"></div>
<div class="a rl" style="left:398.5px;top:76.5px">YES</div>
<div class="a radio" style="left:439px;top:77px"></div>
<div class="a rl" style="left:458px;top:76.5px">NO</div>
<div class="a pill" style="top:108.5px">STEP2</div>
<div class="a ttl" style="top:113px">以下の情報をご入力ください。</div>

<div class="a num" style="top:149.2px">1</div>
<div class="a lbl" style="top:149px">保温材の経過年数(年)</div>
<div class="a fld" style="top:170.5px"></div>
<div class="a ft ftn" style="top:179px">〜15年</div>
<svg class="a chev" style="top:183px" viewBox="0 0 6 4"><path d="M0.6 0.6 L3 3 L5.4 0.6" fill="none" stroke="#3a86c6" stroke-width="1.2"/></svg>
<div class="a unit" style="top:187px">年</div>
<div class="a help" style="top:207.5px">保温材を設置してからの年数を選択ください</div>

<div class="a num" style="top:238.8px">2</div>
<div class="a lbl" style="top:238.5px">保温材種類<span class="req">*</span></div>
<div class="a fld" style="top:260.3px"></div>
<div class="a ft" style="top:269px">けい酸カルシウム保温筒</div>
<svg class="a chev" style="top:273px" viewBox="0 0 6 4"><path d="M0.6 0.6 L3 3 L5.4 0.6" fill="none" stroke="#3a86c6" stroke-width="1.2"/></svg>

<div class="a num" style="top:310px">3</div>
<div class="a lbl" style="top:309.5px">内部温度(°C)<span class="req">*</span></div>
<div class="a fld" style="top:330.8px"></div>
<div class="a ft ftn" style="top:339.5px">100</div>
<svg class="a chev" style="top:343.5px" viewBox="0 0 6 4"><path d="M0.6 0.6 L3 3 L5.4 0.6" fill="none" stroke="#3a86c6" stroke-width="1.2"/></svg>
<div class="a unit" style="top:347px">°C</div>

<div class="a num" style="top:386.3px">4</div>
<div class="a lbl" style="top:386px">配管径<span class="req">*</span></div>
<div class="a fld" style="top:408.3px"></div>
<div class="a ft ftn" style="top:417px">80A/3B</div>
<svg class="a chev" style="top:421px" viewBox="0 0 6 4"><path d="M0.6 0.6 L3 3 L5.4 0.6" fill="none" stroke="#3a86c6" stroke-width="1.2"/></svg>

<div class="a num" style="top:456.6px">5</div>
<div class="a lbl" style="top:456.3px">保温材厚み(mm)<span class="req">*</span></div>
<div class="a fld" style="top:478px"></div>
<div class="a ft ftn" style="top:486.5px">50</div>
<svg class="a chev" style="top:490.5px" viewBox="0 0 6 4"><path d="M0.6 0.6 L3 3 L5.4 0.6" fill="none" stroke="#3a86c6" stroke-width="1.2"/></svg>
<div class="a unit" style="top:494.5px">mm</div>

<div class="a num" style="top:533.8px">6</div>
<div class="a lbl" style="top:533.5px">外気温度(°C)<span class="req">*</span></div>
<div class="a fld" style="top:555px"></div>
<div class="a ft ftn" style="top:563.5px">30</div>
<div class="a unit" style="top:571.5px">°C</div>
<div class="a help" style="top:591.5px">外気温度は-10°C以上、内部温度未満の値を入力してください</div>

<div class="a num" style="top:623.5px">7</div>
<div class="a lbl" style="top:623.2px">外装材の表面温度(°C)<span class="req">*</span></div>
<div class="a fld" style="top:644.9px"></div>
<div class="a ft ftn" style="top:653.5px">80</div>
<div class="a unit" style="top:661.2px">°C</div>
<div class="a help" style="top:681px">接触式表面温度計で測定した値を入力してください</div>
<div class="a help" style="top:693px">日射の影響を受けない場所で測定してください</div>
<div class="a help" style="top:705px">外装材の表面温度は、外気温度より大きく内部温度未満の値を入力してください</div>

<div class="a num" style="top:737.8px">8</div>
<div class="a lbl" style="top:737.5px">配管長(m)<span class="req">*</span></div>
<div class="a fld" style="top:760px"></div>
<div class="a ft ftn" style="top:768.5px">100</div>
<div class="a unit" style="top:776.5px">m</div>
<div class="a help" style="top:796px">配管長は、10m以上1000m以下の値を入力してください</div>
<div class="a help" style="top:824px">※プルダウン中に当てはまるものが無い場合は、弊社にお問い合わせください</div>

<div id="btn" class="a">判定する</div>
</body></html>
